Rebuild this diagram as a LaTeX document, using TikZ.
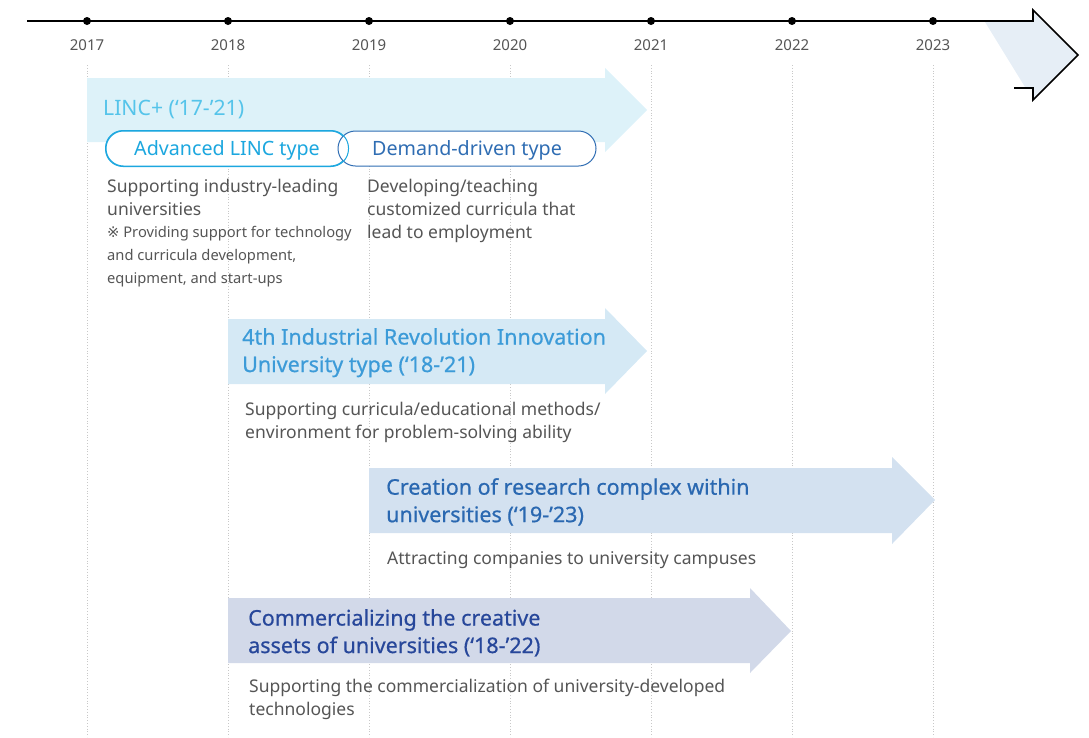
\documentclass[tikz,border=0pt]{standalone}
\usepackage{fontspec}
\setmainfont{Noto Sans}
\newfontfamily\titlefont{Noto Sans}[FakeBold=0.6]
\newfontfamily\marksym{DejaVu Sans}
\usepackage{xcolor}
\usepackage{tikz}
\usetikzlibrary{calc}

\definecolor{yeargray}{HTML}{555555}
\definecolor{descgray}{HTML}{555555}
\definecolor{gridgray}{HTML}{C8C8C8}
\definecolor{lincfill}{HTML}{DDF2F9}
\definecolor{linctext}{HTML}{55C4EA}
\definecolor{advcol}{HTML}{1CA7DF}
\definecolor{demcol}{HTML}{2F6DB3}
\definecolor{irfill}{HTML}{D5E9F5}
\definecolor{irtext}{HTML}{3C9BD8}
\definecolor{rcfill}{HTML}{D3E1F0}
\definecolor{rctext}{HTML}{2A68B1}
\definecolor{cafill}{HTML}{D2D9E9}
\definecolor{catext}{HTML}{27479A}
\definecolor{headfill}{HTML}{E6EEF6}

\begin{document}
\begin{tikzpicture}[x=1pt, y=-1pt,
		year/.style={text=yeargray, font=\fontsize{15}{18}\selectfont},
		title/.style={anchor=north west, inner sep=0pt, align=left, font=\titlefont\fontsize{21.5}{27.5}\selectfont},
		desc/.style={anchor=north west, inner sep=0pt, align=left, text=descgray, font=\fontsize{17.5}{22.8}\selectfont},
		note/.style={anchor=north west, inner sep=0pt, align=left, text=descgray, font=\fontsize{14.7}{23}\selectfont},
		pill/.style={fill=white, rounded corners=17.5pt, line width=1pt, minimum height=35pt, inner sep=0pt, text height=15pt, text depth=1.3pt, font=\fontsize{19.7}{20}\selectfont}]
		\useasboundingbox (0,0) rectangle (1089,737);
		
		% grid and years
		\foreach \y [count=\i from 0] in {2017,...,2023}{
			\draw[gridgray, dotted, line width=0.8pt] (87+141*\i,65) -- (87+141*\i,737);
			\node[year] (y\y) at (87+141*\i,45.5) {\y};
		}
		
		% big arrow at the end of the line
		\fill[headfill] (985,22) -- (1033,22) -- (1033,12) -- (1077,55) -- (1033,99) -- (1033,87) -- (1025,87) -- cycle;
		\draw[line width=1.6pt] (27,21) -- (1033,21) -- (1033,10) -- (1078,55) -- (1033,100) -- (1033,88) -- (1014,88);
		\foreach \i in {0,...,6}{
			\fill (87+141*\i,21) circle (4);
		}
		
		% LINC+
		\fill[lincfill] (87,78) -- (605,78) -- (605,68) -- (647,110) -- (605,152) -- (605,142) -- (87,142) -- cycle;
		\node[title, text=linctext, font=\fontsize{21.2}{25}\selectfont] (linc) at (103,100) {LINC+ (‘17-’21)};
		\node[pill, draw=advcol, text=advcol, minimum width=242pt] (adv) at (227,148.5) {Advanced LINC type};
		\node[pill, draw=demcol, text=demcol, minimum width=258pt] (dem) at (467,148.5) {Demand-driven type};
		\draw[advcol, line width=1pt, rounded corners=17.5pt] (adv.south west) rectangle (adv.north east);
		\node[desc] (advdesc) at (107,179) {Supporting industry-leading\\universities};
		\node[note] (advnote) at (107,226) {{\marksym ※} Providing support for technology\\and curricula development,\\equipment, and start-ups};
		\node[desc] (demdesc) at (367,179) {Developing/teaching\\customized curricula that\\lead to employment};
		
		% 4th industrial revolution
		\fill[irfill] (228,319) -- (605,319) -- (605,308) -- (647,351) -- (605,394) -- (605,384) -- (228,384) -- cycle;
		\node[title, text=irtext] (ir) at (242,328) {4th Industrial Revolution Innovation\\University type (‘18-’21)};
		\node[desc] (irdesc) at (245,402) {Supporting curricula/educational methods/\\environment for problem-solving ability};
		
		% research complex
		\fill[rcfill] (369,468) -- (892,468) -- (892,457) -- (935,500) -- (892,544) -- (892,533) -- (369,533) -- cycle;
		\node[title, text=rctext] (rc) at (386,478) {Creation of research complex within\\universities (‘19-’23)};
		\node[desc] (rcdesc) at (387,551) {Attracting companies to university campuses};
		
		% commercializing
		\fill[cafill] (228,598) -- (750,598) -- (750,588) -- (791,631) -- (750,673) -- (750,663) -- (228,663) -- cycle;
		\node[title, text=catext] (ca) at (248,609) {Commercializing the creative\\assets of universities (‘18-’22)};
		\node[desc] (cadesc) at (249,679) {Supporting the commercialization of university-developed\\technologies};
	\end{tikzpicture}
\end{document}
